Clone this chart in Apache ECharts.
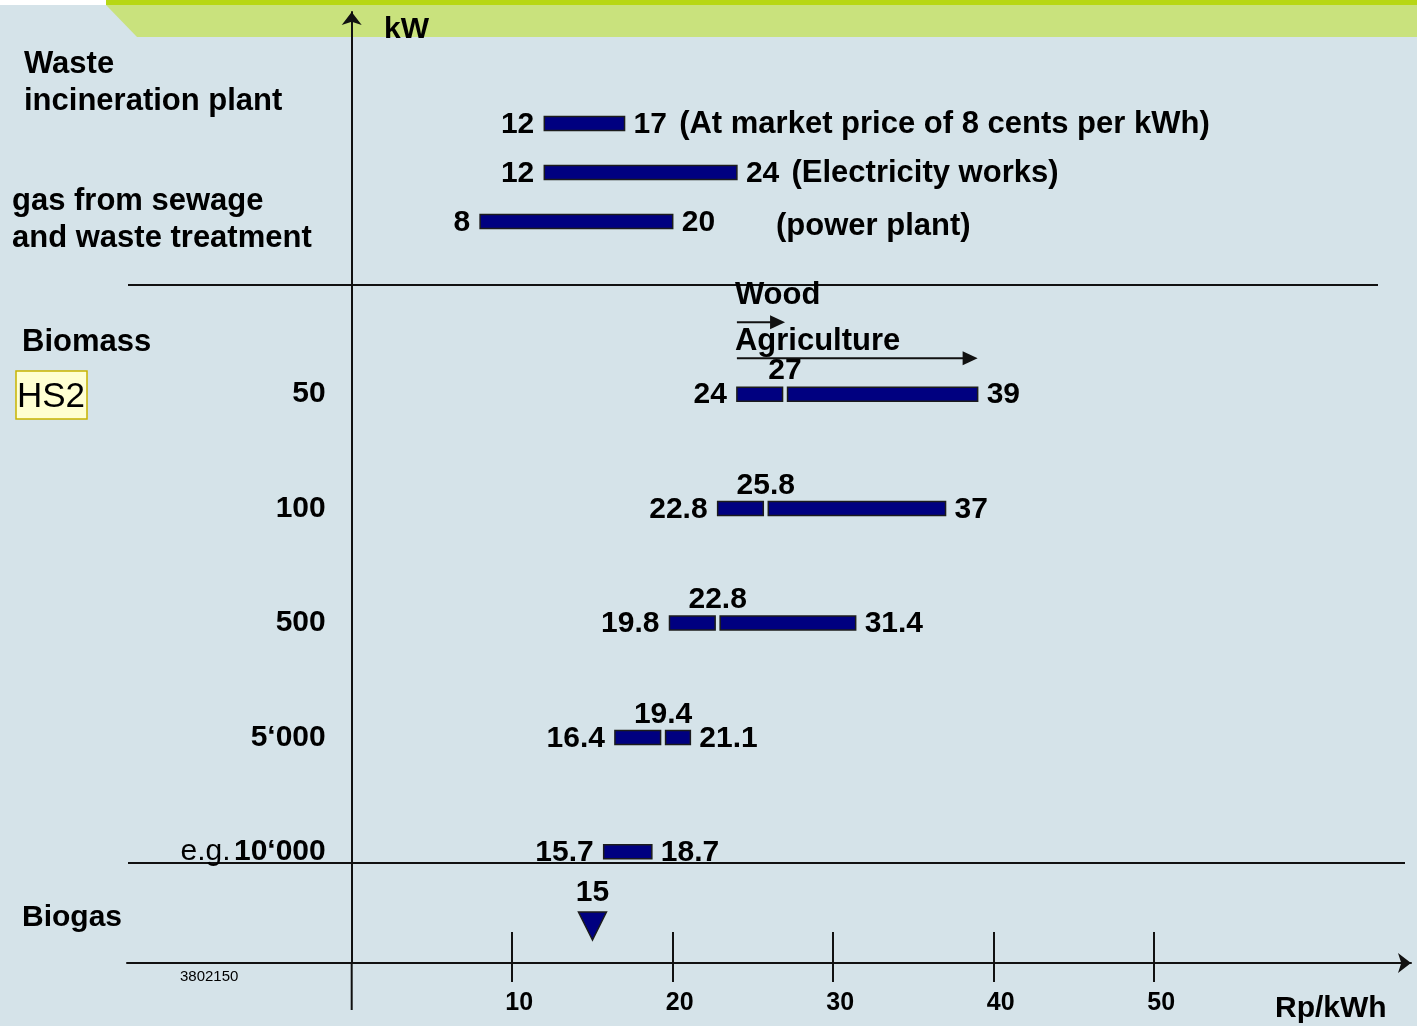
<!DOCTYPE html>
<html>
<head>
<meta charset="utf-8">
<title>Feed-in prices Rp/kWh</title>
<script src="https://cdn.jsdelivr.net/npm/echarts@6/dist/echarts.min.js"></script>
<style>
  html, body { margin: 0; padding: 0; background: #d5e3e9; }
  #chart { width: 1417px; height: 1026px; }
</style>
</head>
<body>
<div id="chart"></div>
<script>
// price axis (Rp/kWh)
var xTicks = [10, 20, 30, 40, 50]

// waste incineration + gas from sewage
var wasteRows = ['Waste incineration', 'Sewage gas, electricity works', 'Sewage gas, power plant']
var wasteLow = [12, 12, 8]
var wasteHigh = [17, 24, 20]
var wasteNotes = ['(At market price of 8 cents per kWh)', '(Electricity works)', '']

// biomass by plant size in kW
var biomassRows = ['50', '100', '500', '5‘000', '10‘000']
var biomassPrefix = ['', '', '', '', 'e.g.']
var biomassLow = [24, 22.8, 19.8, 16.4, 15.7]
var biomassMid = [27, 25.8, 22.8, 19.4, null]
var biomassHigh = [39, 37, 31.4, 21.1, 18.7]

// fuel arrows drawn over the 50 kW row
var fuelNames = ['Wood', 'Agriculture']
var fuelFrom = [24, 24]
var fuelTo = [27, 39]

// biogas
var biogasRows = ['Biogas']
var biogasValue = [15]

var FONT = 'Liberation Sans, Arial, sans-serif'
var INK = '#111'
var BAR = '#000080'
var X_MIN = -14
var X_MAX = 66
var GRID_LEFT = 127
var GRID_RIGHT = 6

function txt (x, y, text, size, weight, align) {
  return {
    type: 'text',
    x: x,
    y: y,
    z: 10,
    style: {
      text: text,
      fill: '#000',
      fontSize: size,
      fontWeight: weight || 'bold',
      fontFamily: FONT,
      align: align || 'left',
      verticalAlign: 'middle'
    }
  }
}

function rangeRenderer (notes) {
  return function (params, api) {
    var row = api.value(0)
    var lo = api.value(1)
    var hi = api.value(2)
    var mid = api.value(3)
    var a = api.coord([lo, row])
    var b = api.coord([hi, row])
    var y = a[1]
    var h = 14
    var barStyle = { fill: BAR, stroke: '#1c1c1c', lineWidth: 1.5 }
    var kids = []
    if (isNaN(mid)) {
      kids.push({ type: 'rect', shape: { x: a[0], y: y - h / 2, width: b[0] - a[0], height: h }, style: barStyle })
    } else {
      var m = api.coord([mid, row])[0]
      kids.push({ type: 'rect', shape: { x: a[0], y: y - h / 2, width: m - 2.5 - a[0], height: h }, style: barStyle })
      kids.push({ type: 'rect', shape: { x: m + 2.5, y: y - h / 2, width: b[0] - m - 2.5, height: h }, style: barStyle })
      kids.push(txt(m, y - 23, String(mid), 30, 'bold', 'center'))
    }
    kids.push(txt(a[0] - 10, y + 1, String(lo), 30, 'bold', 'right'))
    var note = notes ? notes[params.dataIndex] : ''
    kids.push({
      type: 'text',
      x: b[0] + 9,
      y: y + 1,
      style: {
        text: '{v|' + hi + '}' + (note ? '{s| }{n|' + note + '}' : ''),
        rich: {
          v: { fontSize: 30, fontWeight: 'bold', fontFamily: FONT, fill: '#000' },
          s: { fontSize: 44, fontFamily: FONT },
          n: { fontSize: 31, fontWeight: 'bold', fontFamily: FONT, fill: '#000' }
        },
        align: 'left',
        verticalAlign: 'middle'
      }
    })
    return { type: 'group', children: kids }
  }
}

var wasteData = wasteRows.map(function (r, i) {
  return [i, wasteLow[i], wasteHigh[i], '-']
})
var biomassData = biomassRows.map(function (r, i) {
  return [i, biomassLow[i], biomassHigh[i], biomassMid[i] == null ? '-' : biomassMid[i]]
})
var fuelData = fuelNames.map(function (n, i) {
  return [0, fuelFrom[i], fuelTo[i]]
})

var hiddenX = function (grid) {
  return { type: 'value', gridIndex: grid, min: X_MIN, max: X_MAX, show: false }
}

// pixel x of price 0, where the kW axis stands
var zeroX = GRID_LEFT + (0 - X_MIN) / (X_MAX - X_MIN) * (1417 - GRID_LEFT - GRID_RIGHT)

var chart = echarts.init(document.getElementById('chart'))
chart.setOption({
  backgroundColor: '#d5e3e9',
  animation: false,
  grid: [
    { left: GRID_LEFT, right: GRID_RIGHT, top: 12, bottom: 63, outerBoundsMode: 'none' },
    { left: GRID_LEFT, right: GRID_RIGHT, top: 99, bottom: 780, outerBoundsMode: 'none' },
    { left: GRID_LEFT, right: GRID_RIGHT, top: 337, bottom: 117, outerBoundsMode: 'none' },
    { left: GRID_LEFT, right: GRID_RIGHT, top: 889, bottom: 63, outerBoundsMode: 'none' }
  ],
  xAxis: [
    {
      type: 'value',
      gridIndex: 0,
      position: 'bottom',
      min: X_MIN,
      max: X_MAX,
      axisLine: {
        show: true,
        symbol: ['none', 'arrow'],
        symbolSize: [15, 13],
        lineStyle: { color: INK, width: 2 }
      },
      axisTick: { show: true, customValues: xTicks, length: 19, lineStyle: { color: INK, width: 2 } },
      axisLabel: {
        show: true,
        customValues: xTicks,
        margin: 28,
        padding: [0, 0, 0, 14],
        color: '#000',
        fontSize: 25,
        fontWeight: 'bold',
        fontFamily: FONT
      },
      splitLine: { show: false }
    },
    {
      // upper half of the tick marks
      type: 'value',
      gridIndex: 0,
      position: 'bottom',
      min: X_MIN,
      max: X_MAX,
      axisLine: { show: false },
      axisTick: { show: true, inside: true, customValues: xTicks, length: 31, lineStyle: { color: INK, width: 2 } },
      axisLabel: { show: false },
      splitLine: { show: false }
    },
    hiddenX(1),
    hiddenX(2),
    hiddenX(3)
  ],
  yAxis: [
    {
      type: 'value',
      gridIndex: 0,
      min: 0,
      max: 1,
      axisLine: {
        show: true,
        symbol: ['none', 'arrow'],
        symbolSize: [15, 13],
        lineStyle: { color: INK, width: 2 }
      },
      axisTick: { show: false },
      axisLabel: { show: false },
      splitLine: { show: false }
    },
    { type: 'category', gridIndex: 1, data: wasteRows, inverse: true, show: false },
    {
      type: 'category',
      gridIndex: 2,
      data: biomassRows,
      inverse: true,
      position: 'left',
      offset: GRID_LEFT - zeroX,
      axisLine: { show: false, onZero: false },
      axisTick: { show: false },
      splitLine: { show: false },
      axisLabel: {
        interval: 0,
        margin: 26,
        formatter: function (value, index) {
          var pre = biomassPrefix[index]
          return (pre ? '{n|' + pre + '} ' : '') + '{b|' + value + '}'
        },
        rich: {
          b: { fontSize: 30, fontWeight: 'bold', fontFamily: FONT, color: '#000' },
          n: { fontSize: 30, fontWeight: 'normal', fontFamily: FONT, color: '#000' }
        }
      }
    },
    { type: 'category', gridIndex: 3, data: biogasRows, show: false }
  ],
  series: [
    {
      name: 'Waste / sewage gas',
      type: 'custom',
      xAxisIndex: 2,
      yAxisIndex: 1,
      encode: { x: [1, 2], y: 0 },
      renderItem: rangeRenderer(wasteNotes),
      data: wasteData
    },
    {
      name: 'Biomass',
      type: 'custom',
      xAxisIndex: 3,
      yAxisIndex: 2,
      encode: { x: [1, 2], y: 0 },
      renderItem: rangeRenderer(null),
      data: biomassData
    },
    {
      name: 'Fuel',
      type: 'custom',
      xAxisIndex: 3,
      yAxisIndex: 2,
      encode: { x: [1, 2], y: 0 },
      renderItem: function (params, api) {
        var a = api.coord([api.value(1), api.value(0)])
        var b = api.coord([api.value(2), api.value(0)])
        var y = a[1] - [72, 36][params.dataIndex]
        var ty = y - [27, 17][params.dataIndex]
        return {
          type: 'group',
          children: [
            { type: 'line', shape: { x1: a[0], y1: y, x2: b[0] - 12, y2: y }, style: { stroke: INK, lineWidth: 2 } },
            { type: 'polygon', shape: { points: [[b[0] - 15, y - 7], [b[0], y], [b[0] - 15, y + 7]] }, style: { fill: INK } },
            txt(a[0] - 2, ty, fuelNames[params.dataIndex], 31, 'bold', 'left')
          ]
        }
      },
      data: fuelData
    },
    {
      name: 'Biogas',
      type: 'scatter',
      xAxisIndex: 4,
      yAxisIndex: 3,
      symbol: 'triangle',
      symbolRotate: 180,
      symbolSize: [28, 28],
      itemStyle: { color: BAR, borderColor: '#1c1c1c', borderWidth: 1.5, opacity: 1 },
      label: {
        show: true,
        position: 'top',
        distance: 4,
        formatter: function (p) { return p.value[0] },
        color: '#000',
        fontSize: 30,
        fontWeight: 'bold',
        fontFamily: FONT
      },
      data: biogasValue.map(function (v, i) { return [v, i] })
    }
  ],
  graphic: [
    { type: 'rect', shape: { x: 0, y: 0, width: 106, height: 5 }, style: { fill: '#ffffff' } },
    { type: 'rect', shape: { x: 106, y: 0, width: 1311, height: 5 }, style: { fill: '#b7d714' } },
    { type: 'polygon', shape: { points: [[106, 5], [1417, 5], [1417, 37], [137, 37]] }, style: { fill: '#c9e27d' } },
    { type: 'line', shape: { x1: 128, y1: 285, x2: 1378, y2: 285 }, style: { stroke: INK, lineWidth: 2 } },
    { type: 'line', shape: { x1: 128, y1: 863, x2: 1405, y2: 863 }, style: { stroke: INK, lineWidth: 2 } },
    { type: 'line', shape: { x1: zeroX, y1: 963, x2: zeroX, y2: 1010 }, style: { stroke: INK, lineWidth: 2 } },
    txt(384, 30, 'kW', 30),
    txt(24, 64, 'Waste', 31),
    txt(24, 101, 'incineration plant', 31),
    txt(12, 201, 'gas from sewage', 31),
    txt(12, 238, 'and waste treatment', 31),
    txt(776, 226, '(power plant)', 31),
    txt(22, 342, 'Biomass', 31),
    { type: 'rect', z: 9, shape: { x: 16, y: 371, width: 71, height: 48 }, style: { fill: '#ffffd2', stroke: '#c8b400', lineWidth: 1.5 } },
    txt(51, 397, 'HS2', 35, 'normal', 'center'),
    txt(22, 918, 'Biogas', 30),
    txt(180, 977, '3802150', 15, 'normal'),
    txt(1275, 1009, 'Rp/kWh', 30)
  ]
})
</script>
</body>
</html>
